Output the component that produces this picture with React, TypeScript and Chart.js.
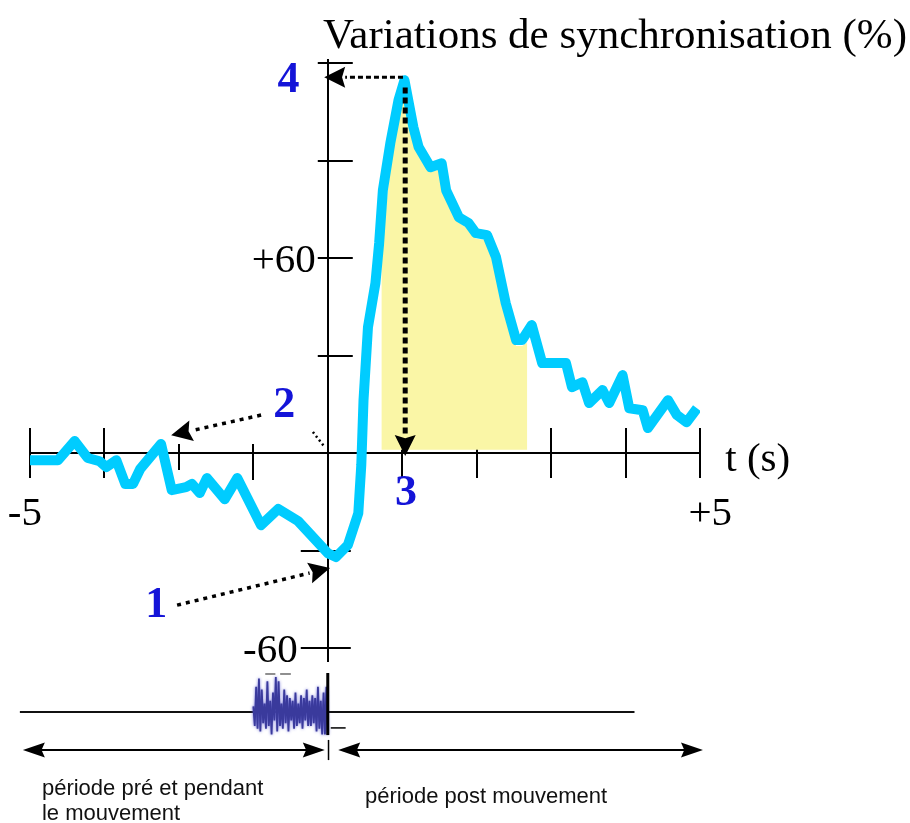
import React, { useEffect, useRef } from 'react';
import { Chart, LinearScale, registerables } from 'chart.js';

// ---------------- data ----------------
const TIME_S = [
  -5.0, -4.53, -4.25, -4.03, -3.83, -3.72, -3.55, -3.4, -3.27, -3.15, -2.8, -2.62, -2.38, -2.28, -2.15, -2.03,
  -1.73, -1.52, -1.12, -0.83, -0.5, 0, 0.11, 0.27, 0.41, 0.45, 0.48, 0.54, 0.64, 0.69, 0.74, 0.84, 0.95, 1.03,
  1.15, 1.22, 1.38, 1.53, 1.59, 1.76, 1.89, 1.99, 2.14, 2.26, 2.39, 2.53, 2.61, 2.74, 2.88, 3.01, 3.2, 3.28,
  3.42, 3.51, 3.69, 3.78, 3.96, 4.05, 4.23, 4.3, 4.57, 4.69, 4.82, 4.96,
];
const SYNC_PCT = [
  -2.2, -2.2, 3.7, -1.5, -2.5, -4.3, -2.2, -9.5, -9.5, -4.9, 2.8, -11.4, -10.5, -9.5, -12.3, -7.7,
  -14.2, -7.7, -22.2, -17.2, -20.9, -30.8, -32.0, -28.3, -18.5, -3.7, 16.3, 38.8, 52.3, 64.6, 80.9, 95.4, 108.6, 114.8,
  100.3, 94.2, 88.0, 89.2, 80.9, 72.6, 70.8, 67.7, 67.1, 60.3, 46.2, 34.8, 34.8, 39.4, 27.7, 27.7, 27.7, 20.3,
  21.8, 15.4, 19.4, 15.4, 24.0, 13.8, 13.2, 7.7, 16.3, 11.7, 9.5, 13.8,
];
// yellow shaded area (upper edge of the shading)
const SHADE_T = [0.72, 0.77, 0.84, 0.92, 0.99, 1.03, 1.15, 1.22, 1.38, 1.53, 1.59, 1.76, 1.89, 1.99, 2.14, 2.26, 2.39, 2.53, 2.61, 2.68];
const SHADE_V = [56, 72.6, 88, 103.4, 108.6, 113, 99, 93, 86.5, 87.5, 79.5, 71, 69, 66, 65.5, 58.5, 44.5, 33, 33, 34];
const SHADE_BASE = 1;

const X_TICKS = [-5, -3.75, -2.5, -1.25, 0, 1, 2, 3, 4, 5];
const X_TICK_LABELS: Record<string, string> = { '-5': '-5 ', '5': '\u2002+5' };
const Y_TICKS = [-60, -30, 30, 60, 90, 120];
const Y_TICK_LABELS: Record<string, string> = { '60': '+60', '-60': '-60' };

// EMG burst amplitudes (arbitrary units), between EMG_FROM and EMG_TO seconds
const EMG = [
  0.2, -0.5, 0.9, -0.6, 1.2, -0.7, 0.8, -0.4, 0.3, -0.6, 1.1, -0.5, 0.4, -0.8, 0.7, -0.3, 1.25, -0.7, 1.1, -0.5,
  0.3, -0.6, 0.8, -0.4, 0.6, -0.7, 0.5, -0.3, 0.4, -0.6, 0.7, -0.5, 0.3, -0.4, 0.6, -0.6, 0.5, -0.3, 0.8, -0.5,
  0.4, -0.5, 0.6, -0.4, 0.5, -0.7, 0.9, -0.6, 0.4, -0.8, 0.7, -0.8, 0.9, -0.8,
];
const EMG_FROM = -1.25;
const EMG_TO = 0;

const TITLE = 'Variations de synchronisation (%)';
const X_TITLE = 't (s)';
const PERIOD_PRE = ['période pré et pendant', 'le mouvement'];
const PERIOD_POST = 'période post mouvement';

// annotation labels (data coordinates: seconds, %)
const MARKERS = [
  { text: '4', t: -0.66, v: 114.8 },
  { text: '2', t: -0.73, v: 14.5 },
  { text: '3', t: 1.05, v: -12.6 },
  { text: '1', t: -2.88, v: -47.1 },
];
const ARROWS = [
  { from: [1.01, 115.7], to: [-0.06, 115.7], width: 3, dash: [5, 3] },
  { from: [1.04, 112.5], to: [1.04, -0.9], width: 5, dash: [6, 4] },
  { from: [-1.12, 11.7], to: [-2.63, 5.5], width: 3.5, dash: [4, 5] },
  { from: [-2.53, -46.8], to: [0.03, -35.4], width: 3.5, dash: [4, 5] },
];

// ---------------- style constants ----------------
const CYAN = '#00CCFF';
const YELLOW = '#FAF6A6';
const BLUE = '#1414d8';
const SERIF = '"Liberation Serif", "Times New Roman", serif';
const SANS = '"Liberation Sans", Arial, sans-serif';
const LEFT_COMPRESSION = 0.8; // the pre-movement half of the time axis is drawn compressed

class SplitTimeScale extends LinearScale {
  static id = 'splitTime';
  static defaults = LinearScale.defaults;
  toU(v: number) {
    return v < 0 ? v * LEFT_COMPRESSION : v;
  }
  getPixelForValue(value: number) {
    if (value === null || value === undefined || Number.isNaN(value)) return NaN;
    const a = this.toU(this.min);
    const b = this.toU(this.max);
    return this.getPixelForDecimal((this.toU(value) - a) / (b - a));
  }
  getValueForPixel(pixel: number) {
    const a = this.toU(this.min);
    const b = this.toU(this.max);
    const u = a + this.getDecimalForPixel(pixel) * (b - a);
    return u < 0 ? u / LEFT_COMPRESSION : u;
  }
}

Chart.register(...registerables, SplitTimeScale as any);

function arrowHead(ctx: CanvasRenderingContext2D, x1: number, y1: number, x2: number, y2: number, len: number, half: number) {
  const ang = Math.atan2(y2 - y1, x2 - x1);
  const bx = x2 - Math.cos(ang) * len;
  const by = y2 - Math.sin(ang) * len;
  ctx.beginPath();
  ctx.moveTo(x2, y2);
  ctx.lineTo(bx + Math.sin(ang) * half, by - Math.cos(ang) * half);
  ctx.lineTo(bx + Math.cos(ang) * len * 0.15, by + Math.sin(ang) * len * 0.15);
  ctx.lineTo(bx - Math.sin(ang) * half, by + Math.cos(ang) * half);
  ctx.closePath();
  ctx.fill();
  return [bx, by];
}

const schemaPlugin = {
  id: 'schema',
  beforeDatasetsDraw(chart: any) {
    const { ctx } = chart;
    const xs = chart.scales.x;
    const ys = chart.scales.y;
    const x0 = xs.getPixelForValue(0);
    const y0 = ys.getPixelForValue(0);
    ctx.save();
    ctx.strokeStyle = '#000';
    ctx.lineWidth = 2;
    X_TICKS.forEach((t) => {
      if (t === 0) return;
      const px = Math.round(xs.getPixelForValue(t));
      let up = 25;
      let down = 25;
      if (t === -2.5) { up = 9; down = 17; }
      if (t === -1.25) { up = 9; down = 27; }
      ctx.beginPath();
      ctx.moveTo(px, y0 - up);
      ctx.lineTo(px, y0 + down);
      ctx.stroke();
    });
    Y_TICKS.forEach((v) => {
      const py = Math.round(ys.getPixelForValue(v));
      const left = v < 0 ? 27 : 10;
      const right = v < 0 ? 23 : 25;
      ctx.beginPath();
      ctx.moveTo(x0 - left, py);
      ctx.lineTo(x0 + right, py);
      ctx.stroke();
    });
    // y tick labels
    ctx.fillStyle = '#000';
    ctx.font = `41px ${SERIF}`;
    ctx.textAlign = 'right';
    ctx.textBaseline = 'alphabetic';
    Y_TICKS.forEach((v) => {
      const lab = Y_TICK_LABELS[String(v)];
      if (!lab) return;
      const py = ys.getPixelForValue(v);
      ctx.fillText(lab, x0 - (v < 0 ? 30 : 12), py + 14);
    });
    ctx.restore();
  },
  afterDatasetsDraw(chart: any) {
    const { ctx } = chart;
    const xs = chart.scales.x;
    const ys = chart.scales.y;
    const X = (t: number) => xs.getPixelForValue(t);
    const Y = (v: number) => ys.getPixelForValue(v);
    ctx.save();

    // titles
    ctx.fillStyle = '#000';
    ctx.textAlign = 'left';
    ctx.textBaseline = 'alphabetic';
    ctx.font = `43px ${SERIF}`;
    ctx.fillText(TITLE, X(-0.08), Y(123.4) - 4);
    ctx.font = `41px ${SERIF}`;
    ctx.fillText(X_TITLE, X(5.34), Y(-5.5));

    // dotted arrows
    ctx.fillStyle = '#000';
    ctx.strokeStyle = '#000';
    ARROWS.forEach((a) => {
      const x1 = X(a.from[0]);
      const y1 = Y(a.from[1]);
      const x2 = X(a.to[0]);
      const y2 = Y(a.to[1]);
      const [bx, by] = arrowHead(ctx, x1, y1, x2, y2, 21, 10.5);
      ctx.setLineDash(a.dash);
      ctx.lineWidth = a.width;
      ctx.lineCap = 'butt';
      ctx.beginPath();
      ctx.moveTo(x1, y1);
      ctx.lineTo(bx, by);
      ctx.stroke();
      ctx.setLineDash([]);
    });
    // small dotted hint near the axis
    ctx.setLineDash([2, 3]);
    ctx.lineWidth = 2.5;
    ctx.beginPath();
    ctx.moveTo(X(-0.25), Y(6.5));
    ctx.lineTo(X(-0.05), Y(1.8));
    ctx.stroke();
    ctx.setLineDash([]);

    // blue markers
    ctx.fillStyle = BLUE;
    ctx.font = `bold 44px ${SERIF}`;
    ctx.textAlign = 'center';
    ctx.textBaseline = 'middle';
    MARKERS.forEach((m) => ctx.fillText(m.text, X(m.t), Y(m.v)));

    // ---- bottom strip: movement timeline ----
    const baseV = -79.7;
    ctx.strokeStyle = '#111';
    ctx.lineWidth = 1.8;
    ctx.beginPath();
    ctx.moveTo(X(-5.17), Y(baseV));
    ctx.lineTo(X(4.12), Y(baseV));
    ctx.stroke();

    // EMG burst
    ctx.save();
    ctx.strokeStyle = '#3a3a9c';
    ctx.lineWidth = 1.8;
    ctx.shadowColor = 'rgba(90,90,210,0.9)';
    ctx.shadowBlur = 3;
    ctx.beginPath();
    const xa = X(EMG_FROM);
    const xb = X(EMG_TO);
    EMG.forEach((a, i) => {
      const px = xa + ((xb - xa) * i) / (EMG.length - 1);
      const py = Y(baseV + a * 8.6);
      if (i === 0) ctx.moveTo(px, py);
      else ctx.lineTo(px, py);
    });
    ctx.stroke();
    ctx.restore();

    // small dashes above the burst
    ctx.strokeStyle = '#444';
    ctx.lineWidth = 1.2;
    [[-1.05, -0.88], [-0.8, -0.62]].forEach(([a, b]) => {
      ctx.beginPath();
      ctx.moveTo(X(a), Y(-68));
      ctx.lineTo(X(b), Y(-68));
      ctx.stroke();
    });

    // movement onset marker
    ctx.strokeStyle = '#000';
    ctx.lineWidth = 3;
    ctx.beginPath();
    ctx.moveTo(X(0), Y(-67.7));
    ctx.lineTo(X(0), Y(-86.8));
    ctx.stroke();
    ctx.lineWidth = 1.5;
    ctx.beginPath();
    ctx.moveTo(X(0.04), Y(-84.6));
    ctx.lineTo(X(0.24), Y(-84.6));
    ctx.stroke();

    // period arrows
    const arrV = -91.4;
    ctx.fillStyle = '#000';
    const dbl = (t1: number, t2: number) => {
      const x1 = X(t1);
      const x2 = X(t2);
      const y = Y(arrV);
      arrowHead(ctx, x2, y, x1, y, 22, 7.5);
      arrowHead(ctx, x1, y, x2, y, 22, 7.5);
      ctx.lineWidth = 1.8;
      ctx.beginPath();
      ctx.moveTo(x1 + 10, y);
      ctx.lineTo(x2 - 10, y);
      ctx.stroke();
    };
    dbl(-5.12, -0.05);
    dbl(0.14, 5.04);
    ctx.lineWidth = 1.5;
    ctx.beginPath();
    ctx.moveTo(X(0.01), Y(-88.3));
    ctx.lineTo(X(0.01), Y(-94.5));
    ctx.stroke();

    // period texts
    ctx.fillStyle = '#111';
    ctx.font = `22px ${SANS}`;
    ctx.textAlign = 'left';
    ctx.textBaseline = 'alphabetic';
    ctx.fillText(PERIOD_PRE[0], X(-4.8), Y(-105.2));
    ctx.fillText(PERIOD_PRE[1], X(-4.8), Y(-112.9));
    ctx.fillText(PERIOD_POST, X(0.5), Y(-107.6));

    ctx.restore();
  },
};

export default function App() {
  const ref = useRef<HTMLCanvasElement>(null);
  useEffect(() => {
    if (!ref.current) return;
    const chart = new Chart(ref.current, {
      type: 'line',
      data: {
        datasets: [
          {
            label: 'Variations de synchronisation',
            data: TIME_S.map((t, i) => ({ x: t, y: SYNC_PCT[i] })),
            borderColor: CYAN,
            borderWidth: 10,
            borderJoinStyle: 'round',
            borderCapStyle: 'butt',
            pointRadius: 0,
            tension: 0,
            fill: false,
            order: 0,
          },
          {
            label: 'zone',
            data: SHADE_T.map((t, i) => ({ x: t, y: SHADE_V[i] })),
            borderColor: 'rgba(0,0,0,0)',
            borderWidth: 1,
            backgroundColor: YELLOW,
            pointRadius: 0,
            tension: 0,
            fill: { value: SHADE_BASE },
            order: 1,
          },
        ],
      } as any,
      options: {
        animation: false,
        responsive: false,
        events: [],
        layout: { padding: { left: 30, right: 210, top: 60, bottom: 162 } },
        plugins: { legend: { display: false }, tooltip: { enabled: false }, title: { display: false } },
        scales: {
          x: {
            type: 'splitTime',
            min: -5,
            max: 5,
            position: { y: 0 },
            afterBuildTicks: (s: any) => {
              s.ticks = X_TICKS.map((v) => ({ value: v }));
            },
            grid: { display: false, drawTicks: false },
            border: { display: true, color: '#000', width: 2 },
            ticks: {
              autoSkip: false,
              maxRotation: 0,
              minRotation: 0,
              padding: 0,
              labelOffset: 0,
              color: '#000',
              font: { family: SERIF, size: 41, lineHeight: 1.0 },
              // blank first line pushes the label below the crossing tick marks
              callback: (v: any) => {
                const lab = X_TICK_LABELS[String(v)];
                return lab ? ['', lab] : '';
              },
            },
          },
          y: {
            type: 'linear',
            min: -64,
            max: 121,
            position: { x: 0 },
            grid: { display: false, drawTicks: false },
            border: { display: true, color: '#000', width: 2 },
            ticks: { display: false },
          },
        },
      } as any,
      plugins: [schemaPlugin],
    });
    return () => chart.destroy();
  }, []);
  return (
    <div style={{ position: 'fixed', left: 0, top: 0, width: 910, height: 823, background: '#fff' }}>
      <canvas ref={ref} width={910} height={823} style={{ width: 910, height: 823, display: 'block' }} />
    </div>
  );
}
